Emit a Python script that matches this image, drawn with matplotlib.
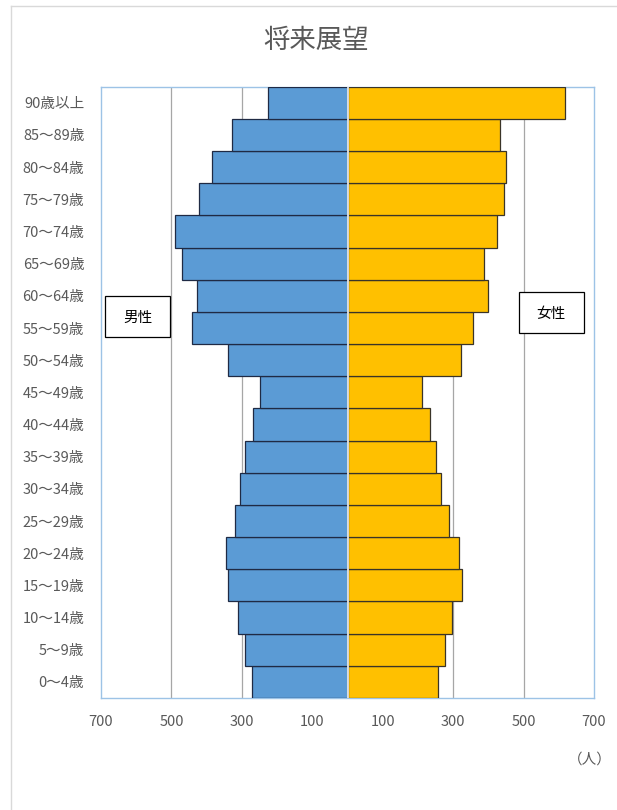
import matplotlib
matplotlib.use("Agg")
import matplotlib.pyplot as plt
from matplotlib.lines import Line2D
from matplotlib.patches import Rectangle

plt.rcParams['font.family'] = ['Noto Sans CJK JP', 'DejaVu Sans']

age_groups = ["0～4歳", "5～9歳", "10～14歳", "15～19歳", "20～24歳", "25～29歳",
              "30～34歳", "35～39歳", "40～44歳", "45～49歳", "50～54歳", "55～59歳",
              "60～64歳", "65～69歳", "70～74歳", "75～79歳", "80～84歳", "85～89歳",
              "90歳以上"]
male = [272, 291, 312, 338, 345, 319, 305, 291, 268, 249, 338, 441, 428, 469, 491, 421, 384, 327, 225]
female = [258, 278, 297, 326, 318, 289, 265, 252, 235, 212, 322, 355, 398, 387, 424, 444, 451, 434, 618]
x_ticks = [-700, -500, -300, -100, 100, 300, 500, 700]
x_tick_labels = ["700", "500", "300", "100", "100", "300", "500", "700"]
title = "将来展望"
label_male = "男性"
label_female = "女性"
unit_label = "（人）"

W, H = 617, 810
fig = plt.figure(figsize=(W / 100, H / 100), dpi=100)
ax = fig.add_axes([101 / W, 1 - 698 / H, (594 - 101) / W, (698 - 86.7) / H])

y = list(range(len(age_groups)))
ax.barh(y, [-m for m in male], height=1.0, color="#5B9BD5", edgecolor="#1F2A44", linewidth=0.9, zorder=3)
ax.barh(y, female, height=1.0, color="#FFC000", edgecolor="#3A3428", linewidth=0.9, zorder=3)
ax.axvline(0, color="#E6E6E6", lw=1.3, zorder=4)

ax.set_xlim(-700, 700)
ax.set_ylim(-0.5, len(age_groups) - 0.5)
for gx in [-500, -300, -100, 100, 300, 500]:
    ax.axvline(gx, color="#A6A6A6", lw=0.9, zorder=1)

ax.set_xticks(x_ticks)
ax.set_xticklabels(x_tick_labels, color="#595959", fontsize=10.5)
ax.set_yticks(y)
ax.set_yticklabels(age_groups, color="#595959", fontsize=10.5)
ax.tick_params(axis='both', length=0)
ax.tick_params(axis='x', pad=12)
ax.tick_params(axis='y', pad=12)
for s in ax.spines.values():
    s.set_color("#9DC3E6")
    s.set_linewidth(1.0)

fig.text(316 / W, 1 - 40 / H, title, ha="center", va="center", fontsize=19, color="#595959")

fig.add_artist(Rectangle((105 / W, 1 - 337 / H), 65 / W, 41 / H, transform=fig.transFigure,
                         facecolor="white", edgecolor="black", linewidth=0.9, zorder=5))
fig.add_artist(Rectangle((519 / W, 1 - 333 / H), 65 / W, 41 / H, transform=fig.transFigure,
                         facecolor="white", edgecolor="black", linewidth=0.9, zorder=5))
fig.text(138 / W, 1 - 318 / H, label_male, ha="center", va="center", fontsize=10.5,
         color="black", zorder=6)
fig.text(551 / W, 1 - 314 / H, label_female, ha="center", va="center", fontsize=10.5,
         color="black", zorder=6)

fig.text(590 / W, 1 - 760 / H, unit_label, ha="center", va="center", fontsize=10.5, color="#595959")

fig.add_artist(Line2D([11 / W, 11 / W], [1 - 6 / H, 0], transform=fig.transFigure, color="#D9D9D9", lw=1))
fig.add_artist(Line2D([11 / W, 1], [1 - 6 / H, 1 - 6 / H], transform=fig.transFigure, color="#D9D9D9", lw=1))

fig.savefig("out.png", dpi=100)
